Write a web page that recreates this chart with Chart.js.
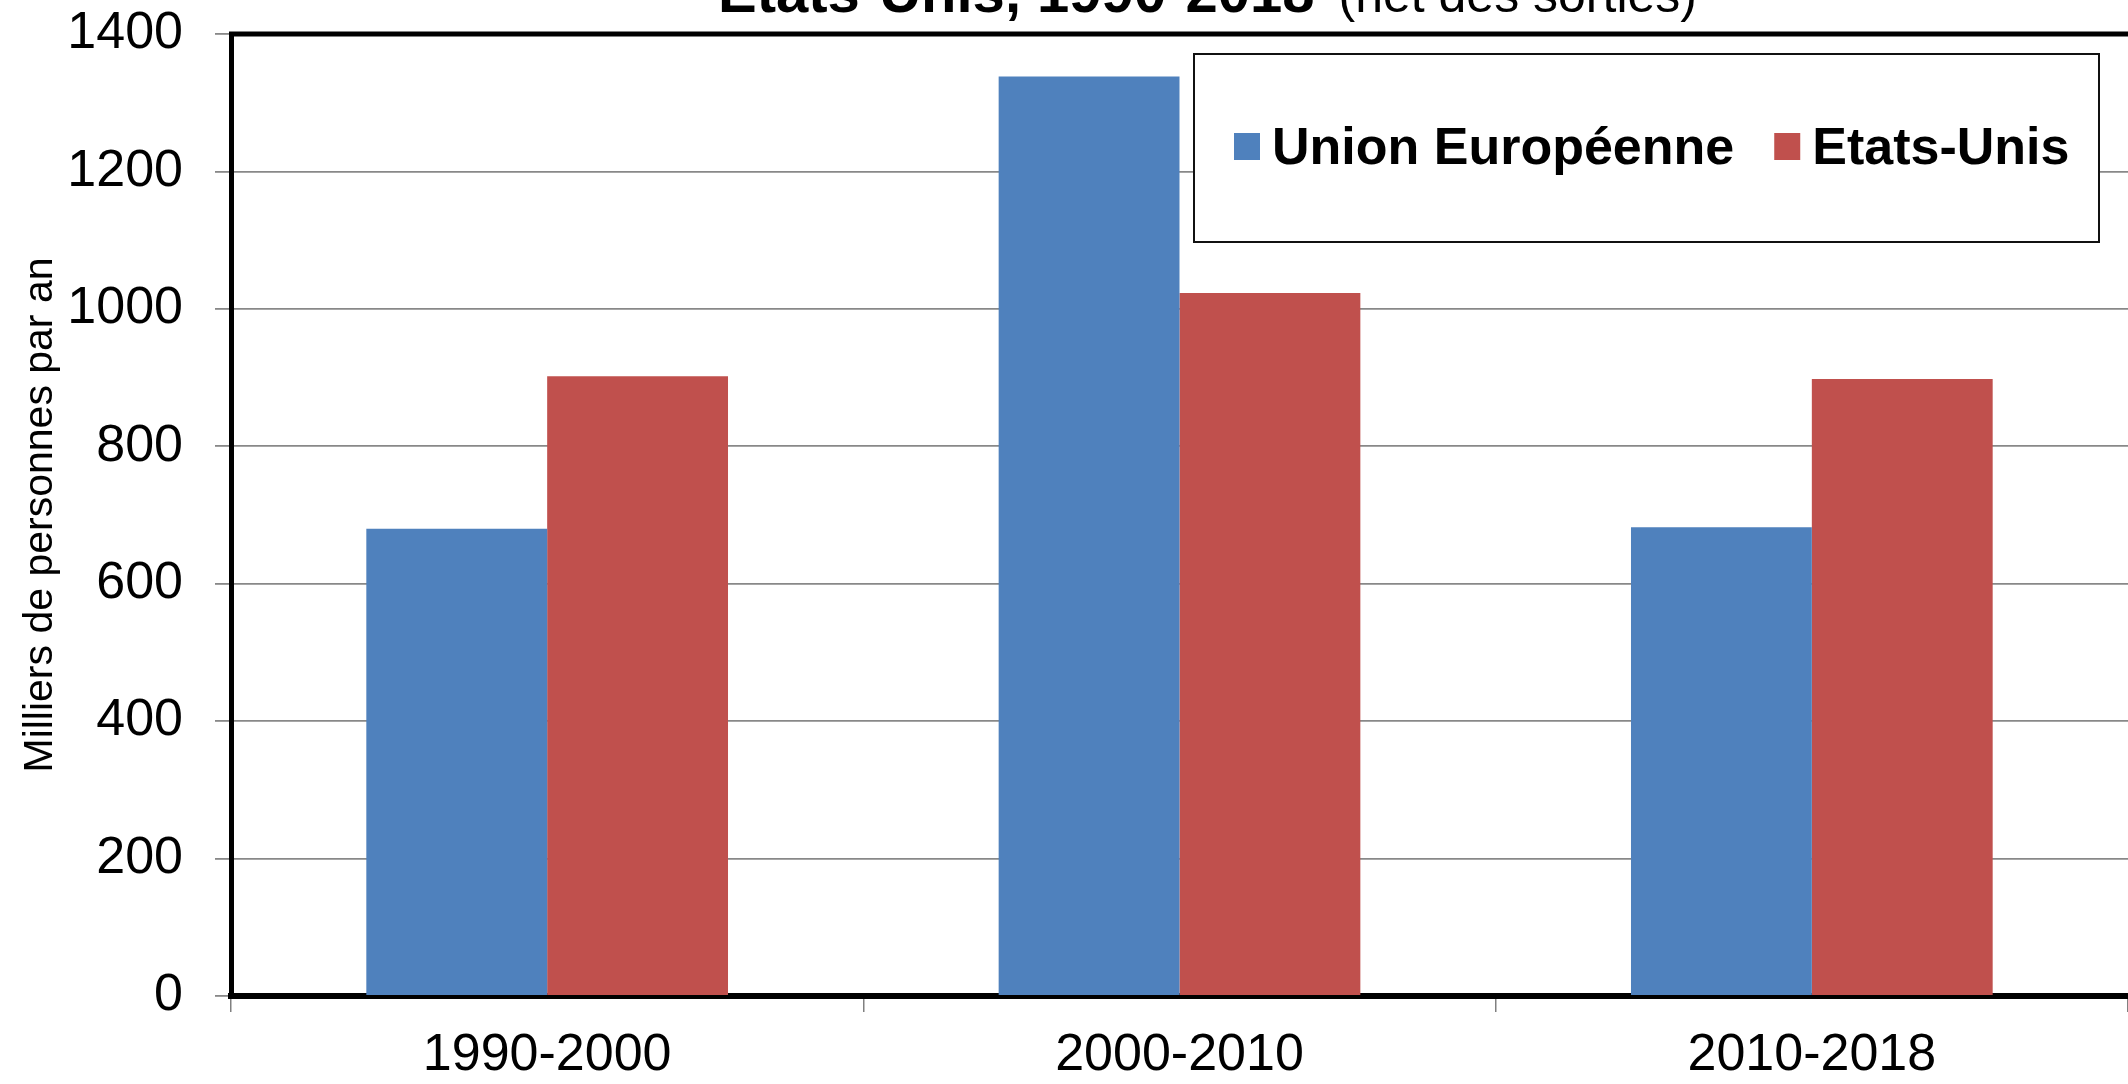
<!DOCTYPE html>
<html lang="fr">
<head>
    <meta charset="UTF-8">
    <title>Migrations nettes UE / Etats-Unis</title>
    <script src="https://cdn.jsdelivr.net/npm/chart.js"></script>
    <style>
        body {
            margin: 0;
            padding: 0;
            background: #fff;
            overflow: hidden;
        }
        #wrap {
            width: 2128px;
            height: 1084px;
        }
    </style>
</head>
<body>
    <div id="wrap">
        <canvas id="migChart" width="2128" height="1084"></canvas>
    </div>

    <script>
        // Data
        const categories = ["1990-2000", "2000-2010", "2010-2018"];
        const euValues = [680, 1338, 682];
        const usValues = [902, 1023, 898];
        const seriesNames = ["Union Européenne", "Etats-Unis"];
        const yMin = 0;
        const yMax = 1400;
        const yStep = 200;
        const titleMain = "Etats-Unis, 1990-2018";
        const titleNote = "(net des sorties)";
        const yTitle = "Milliers de personnes par an";

        const FONT = "'Liberation Sans', Arial, sans-serif";

        // Title line at the very top (partly clipped by the canvas edge)
        const titlePlugin = {
            id: "topTitle",
            afterDraw(chart) {
                const c = chart.ctx;
                const area = chart.chartArea;
                c.save();
                c.fillStyle = "#000";
                c.textBaseline = "alphabetic";
                c.font = "bold 58px " + FONT;
                const w1 = c.measureText(titleMain).width;
                c.font = "50px " + FONT;
                const w2 = c.measureText(titleNote).width;
                const gap = 24;
                const total = w1 + gap + w2;
                const cx = (area.left + area.right) / 2 + 28;
                let x = cx - total / 2;
                c.font = "bold 58px " + FONT;
                c.fillText(titleMain, x, 12);
                c.font = "50px " + FONT;
                c.fillText(titleNote, x + w1 + gap, 12);
                c.restore();
            }
        };

        // Framed legend inside the plot, plus top border of the plot
        const framePlugin = {
            id: "frameLegend",
            afterDatasetsDraw(chart) {
                const c = chart.ctx;
                const area = chart.chartArea;
                c.save();
                c.strokeStyle = "#000";
                c.lineWidth = 5;
                c.beginPath();
                c.moveTo(area.left - 2, area.top);
                c.lineTo(area.right, area.top);
                c.stroke();

                // legend box
                const bx = 1194, by = 54, bw = 905, bh = 188;
                c.fillStyle = "#fff";
                c.fillRect(bx, by, bw, bh);
                c.lineWidth = 2;
                c.strokeStyle = "#111";
                c.strokeRect(bx, by, bw, bh);

                c.font = "bold 52px " + FONT;
                c.textBaseline = "alphabetic";
                let x = bx + 40;
                chart.data.datasets.forEach(ds => {
                    c.fillStyle = ds.backgroundColor;
                    c.fillRect(x, 133, 26, 27);
                    c.fillStyle = "#000";
                    c.fillText(ds.label, x + 38, 164);
                    x += 38 + c.measureText(ds.label).width + 40;
                });
                c.restore();
            }
        };

        const ctx = document.getElementById("migChart").getContext("2d");
        new Chart(ctx, {
            type: "bar",
            data: {
                labels: categories,
                datasets: [
                    {
                        label: seriesNames[0],
                        data: euValues,
                        backgroundColor: "#4F81BD",
                        barPercentage: 1.0,
                        categoryPercentage: 0.572
                    },
                    {
                        label: seriesNames[1],
                        data: usValues,
                        backgroundColor: "#C0504D",
                        barPercentage: 1.0,
                        categoryPercentage: 0.572
                    }
                ]
            },
            options: {
                responsive: false,
                animation: false,
                layout: { padding: { top: 34, right: 0, left: 0, bottom: 0 } },
                plugins: {
                    legend: { display: false },
                    tooltip: { enabled: false }
                },
                scales: {
                    x: {
                        offset: true,
                        grid: {
                            offset: true,
                            drawOnChartArea: false,
                            drawTicks: true,
                            tickLength: 16,
                            color: "#808080",
                            lineWidth: 1.5
                        },
                        border: { color: "#000", width: 6 },
                        ticks: {
                            color: "#000",
                            padding: 12,
                            font: { family: FONT, size: 52 }
                        },
                        afterFit(scale) { scale.height = 88; }
                    },
                    y: {
                        min: yMin,
                        max: yMax,
                        grid: {
                            color: "#888888",
                            lineWidth: 1.8,
                            tickLength: 16
                        },
                        border: { color: "#000", width: 5 },
                        ticks: {
                            stepSize: yStep,
                            color: "#000",
                            padding: 32,
                            font: { family: FONT, size: 52 },
                            callback: v => String(v)
                        },
                        title: {
                            display: true,
                            text: yTitle,
                            color: "#000",
                            padding: { top: 16, bottom: 0 },
                            font: { family: FONT, size: 41 }
                        },
                        afterFit(scale) {
                            scale.width = 231;
                            scale.paddingTop = 0;
                            scale.paddingBottom = 0;
                        }
                    }
                }
            },
            plugins: [titlePlugin, framePlugin]
        });
    </script>
</body>
</html>
